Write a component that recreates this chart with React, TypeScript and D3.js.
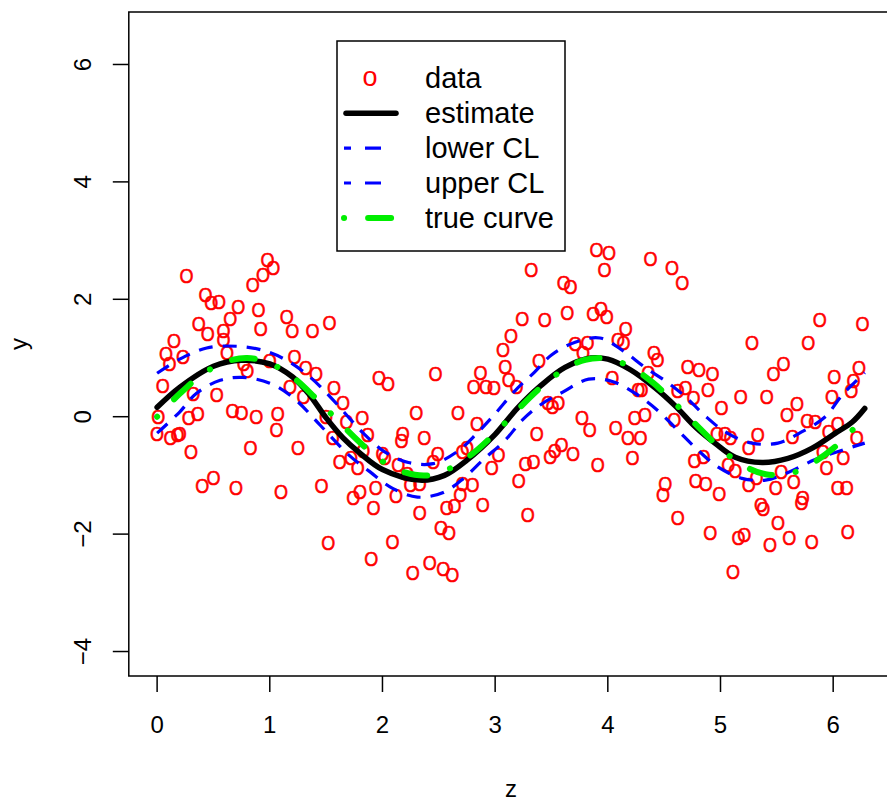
import React from "react";
import * as d3 from "d3";

const dataZ = [
  0.26, 0.98, 1.03, 0.94, 0.85, 0.43, 0.48, 0.55, 0.72, 0.9, 0.65, 1.15, 0.37, 0.45, 0.59, 0.59, 0.92, 1.2, 1.38, 1.53,
  0.15, 0.08, 0.23, 0.11, 0.62, 0.77, 1.0, 1.22, 0.8, 1.32, 1.41, 0.05, 0.32, 0.53, 1.18, 1.3, 0.67, 0.75, 0.36, 0.28,
  0.88, 1.07, 1.5, 0.01, 1.06, 0.0, 0.12, 0.18, 0.2, 0.3, 0.83, 1.25, 0.5, 0.4, 0.7, 1.1, 1.46, 1.52, 1.57, 1.65,
  1.97, 2.05, 2.47, 2.87, 2.81, 2.92, 2.99, 3.07, 3.09, 3.14, 3.12, 3.19, 1.82, 2.3, 2.67, 1.68, 2.84, 1.62, 1.78, 1.72,
  1.8, 1.74, 1.94, 2.12, 1.92, 1.56, 1.87, 1.83, 2.0, 2.02, 2.14, 2.18, 2.17, 2.37, 2.22, 2.25, 2.33, 2.45, 2.49, 2.33,
  2.71, 2.75, 3.03, 2.97, 2.71, 2.8, 2.69, 2.57, 2.64, 2.89, 2.52, 2.59, 2.09, 1.9, 2.27, 2.42, 2.54, 2.62, 3.32, 3.9,
  4.01, 3.97, 4.38, 4.57, 4.66, 3.61, 3.67, 3.64, 3.44, 3.24, 3.87, 3.94, 3.99, 4.16, 4.09, 4.14, 3.71, 3.82, 3.78, 3.39,
  4.41, 4.44, 4.36, 4.71, 4.81, 4.04, 4.27, 4.3, 4.62, 4.69, 3.47, 3.51, 3.56, 3.77, 4.24, 4.33, 4.76, 3.37, 3.27, 3.34,
  3.21, 3.29, 3.49, 3.53, 3.59, 3.69, 3.84, 4.07, 4.18, 4.29, 4.22, 3.91, 4.51, 4.49, 4.62, 4.59, 4.77, 4.85, 4.78, 4.87,
  5.88, 6.26, 5.28, 5.78, 5.56, 5.47, 4.93, 6.01, 6.23, 6.18, 4.89, 6.16, 5.18, 5.41, 5.99, 5.01, 5.68, 5.59, 5.77, 5.84,
  6.04, 4.97, 5.04, 5.09, 5.33, 5.25, 5.64, 5.96, 6.21, 5.07, 5.13, 5.32, 5.54, 5.25, 4.99, 5.49, 5.65, 5.91, 5.94, 6.09,
  6.04, 6.12, 5.73, 5.72, 5.36, 5.38, 5.51, 4.91, 5.16, 5.21, 5.44, 5.61, 5.81, 6.13, 5.11,
];
const dataY = [
  2.41, 2.68, 2.55, 2.43, 2.26, 2.09, 1.94, 1.97, 1.87, 1.83, 1.68, 1.7, 1.58, 1.42, 1.46, 1.32, 1.51, 1.46, 1.46, 1.61,
  1.29, 1.07, 1.03, 0.9, 1.1, 0.91, 0.95, 1.02, 0.78, 0.83, 0.74, 0.54, 0.4, 0.37, 0.51, 0.34, 0.11, 0.08, 0.06, -0.01,
  0.01, 0.05, 0.01, 0.01, -0.21, -0.28, -0.35, -0.31, -0.28, -0.6, -0.53, -0.53, -1.03, -1.18, -1.2, -1.28, -1.18, -2.15, 0.49, 0.25,
  0.66, 0.57, 0.74, 0.76, 0.52, 0.52, 0.49, 1.14, 0.86, 1.39, 0.64, 0.52, -0.01, 0.08, 0.08, -0.09, -0.11, -0.77, -0.87, -0.69,
  -1.28, -1.38, -1.2, -1.35, -1.55, -0.35, -0.31, -0.57, -0.62, -0.7, -0.82, -0.28, -0.4, -0.35, -0.96, -1.16, -1.13, -0.77, -0.62, -1.64,
  -0.6, -0.52, -0.65, -0.86, -1.13, -1.16, -1.33, -1.54, -1.52, -1.5, -1.88, -1.98, -2.12, -2.42, -2.66, -2.49, -2.58, -2.68, 2.5, 2.85,
  2.8, 2.51, 2.7, 2.55, 2.29, 2.28, 2.21, 1.78, 1.66, 1.68, 1.75, 1.85, 1.71, 1.51, 1.32, 1.27, 1.25, 1.27, 1.1, 0.95,
  1.1, 0.97, 0.76, 0.85, 0.81, 0.66, 0.47, 0.47, 0.44, 0.49, 0.25, 0.17, 0.25, -0.01, -0.01, 0.03, 0.32, -0.28, -0.79, -0.77,
  -1.08, -1.66, -0.67, -0.57, -0.48, -0.63, -0.21, -0.18, -0.36, -0.36, -0.69, -0.81, -1.13, -1.33, -1.71, -0.04, -0.74, -0.67, -1.09, -1.13,
  1.65, 1.59, 1.27, 1.27, 0.9, 0.74, 0.74, 0.68, 0.83, 0.62, 0.47, 0.44, 0.34, 0.34, 0.34, 0.15, 0.22, 0.03, -0.06, -0.09,
  -0.12, -0.28, -0.28, -0.36, -0.31, -0.53, -0.33, -0.26, -0.35, -0.82, -0.91, -1.03, -0.94, -1.16, -1.3, -1.21, -1.11, -0.6, -0.86, -0.69,
  -1.21, -1.21, -1.37, -1.47, -1.5, -1.57, -1.81, -1.98, -2.06, -2.01, -2.17, -2.06, -2.13, -1.96, -2.63,
];

// fitted curve
const fitZ = [0, 0.2, 0.5, 0.75, 1.0, 1.2, 1.35, 1.5, 1.65, 1.8, 2.0, 2.33, 2.55, 2.75, 3.0, 3.2, 3.4, 3.62, 3.85, 4.0, 4.2, 4.42, 4.6, 4.78, 4.95, 5.13, 5.37, 5.6, 5.81, 6.02, 6.17, 6.28];
const fitY = [0.16, 0.5, 0.86, 0.96, 0.9, 0.68, 0.38, -0.02, -0.36, -0.62, -0.9, -1.08, -1.0, -0.74, -0.3, 0.15, 0.52, 0.84, 1.0, 0.98, 0.8, 0.49, 0.18, -0.18, -0.45, -0.69, -0.78, -0.71, -0.54, -0.28, -0.09, 0.14];

// confidence limits
const upperZ = [0, 0.2, 0.44, 0.71, 0.94, 1.15, 1.36, 1.54, 1.83, 2.02, 2.23, 2.45, 2.66, 2.84, 3.0, 3.18, 3.35, 3.5, 3.71, 3.93, 4.13, 4.33, 4.54, 4.7, 4.86, 5.06, 5.28, 5.51, 5.72, 5.93, 6.08, 6.28];
const upperY = [0.74, 0.98, 1.17, 1.2, 1.13, 0.96, 0.67, 0.33, -0.28, -0.6, -0.78, -0.8, -0.6, -0.28, 0.05, 0.45, 0.76, 1.05, 1.27, 1.34, 1.13, 0.84, 0.57, 0.32, 0.02, -0.28, -0.45, -0.45, -0.26, 0.0, 0.37, 0.75];
const lowerZ = [0, 0.2, 0.35, 0.56, 0.76, 1.0, 1.21, 1.45, 1.7, 1.89, 2.09, 2.31, 2.54, 2.72, 2.89, 3.09, 3.24, 3.4, 3.6, 3.83, 4.04, 4.24, 4.44, 4.62, 4.8, 4.98, 5.19, 5.4, 5.6, 5.84, 6.08, 6.28];
const lowerY = [-0.28, 0.08, 0.4, 0.62, 0.67, 0.57, 0.32, -0.15, -0.65, -0.94, -1.22, -1.37, -1.29, -1.05, -0.74, -0.4, -0.06, 0.2, 0.42, 0.64, 0.6, 0.4, 0.11, -0.23, -0.57, -0.86, -1.05, -1.08, -0.95, -0.73, -0.57, -0.45];

// true curve
const trueZ = [0, 0.2, 0.4, 0.6, 0.8, 1.0, 1.2, 1.4, 1.6, 1.8, 2.0, 2.2, 2.4, 2.6, 2.8, 3.0, 3.2, 3.4, 3.6, 3.8, 4.0, 4.2, 4.4, 4.6, 4.8, 5.0, 5.2, 5.4, 5.6, 5.8, 6.0, 6.2, 6.28];
const trueY = [0, 0.39, 0.72, 0.93, 1.0, 0.91, 0.68, 0.33, -0.06, -0.44, -0.76, -0.95, -1.0, -0.88, -0.63, -0.28, 0.12, 0.49, 0.79, 0.97, 0.99, 0.85, 0.58, 0.22, -0.17, -0.54, -0.83, -0.98, -0.98, -0.81, -0.54, -0.17, 0];

const xTicks = [0, 1, 2, 3, 4, 5, 6];
const yTicks = [-4, -2, 0, 2, 4, 6];
const legendLabels = ["data", "estimate", "lower CL", "upper CL", "true curve"];

const W = 887;
const H = 806;
const font = "'Liberation Sans', Arial, Helvetica, sans-serif";

const x = d3.scaleLinear().domain([-0.2513, 6.5345]).range([128.8, 893.4]);
const y = d3.scaleLinear().domain([-4.417, 6.894]).range([676, 12]);

const line = d3
  .line<[number, number]>()
  .x((d) => x(d[0]))
  .y((d) => y(d[1]))
  .curve(d3.curveCatmullRom);

const zip = (a: number[], b: number[]) => a.map((v, i) => [v, b[i]] as [number, number]);

const blueDash = "14 10";
const greenDash = "0.1 24 23 24";

export default function App() {
  const [x0, x1] = x.range();
  const [y0, y1] = y.range();

  // legend geometry
  const lgX = 337, lgY = 41, lgW = 228, lgH = 210;
  const rowY = (i: number) => 78.3 + i * 34.9;
  const segA = 344, segB = 398;

  return (
    <svg width={W} height={H} style={{ position: "absolute", left: 0, top: 0, background: "#fff" }} fontFamily={font}>
      {/* points, drawn as the letter O */}
      <g fill="#ff0000" stroke="#ff0000" strokeWidth={0.6} fontSize={21} textAnchor="middle">
        {dataZ.map((z, i) => (
          <text key={i} transform={`translate(${x(z)},${y(dataY[i]) + 7.5}) scale(0.86,1)`}>O</text>
        ))}
      </g>

      <path d={line(zip(fitZ, fitY)) || ""} fill="none" stroke="#000" strokeWidth={5.5} strokeLinecap="round" />
      <path d={line(zip(lowerZ, lowerY)) || ""} fill="none" stroke="#0000ff" strokeWidth={3.2} strokeDasharray={blueDash} />
      <path d={line(zip(upperZ, upperY)) || ""} fill="none" stroke="#0000ff" strokeWidth={3.2} strokeDasharray={blueDash} />
      <path d={line(zip(trueZ, trueY)) || ""} fill="none" stroke="#00ee00" strokeWidth={6} strokeLinecap="round" strokeDasharray={greenDash} />

      {/* frame */}
      <rect x={x0} y={y1} width={x1 - x0} height={y0 - y1} fill="none" stroke="#000" strokeWidth={1.5} />

      {/* x axis */}
      <g stroke="#000" strokeWidth={1.5}>
        {xTicks.map((t) => (
          <line key={t} x1={x(t)} x2={x(t)} y1={y0} y2={y0 + 16} />
        ))}
      </g>
      <g fontSize={24} textAnchor="middle" fill="#000">
        {xTicks.map((t) => (
          <text key={t} x={x(t)} y={733}>{t}</text>
        ))}
        <text x={(x0 + x1) / 2} y={797}>z</text>
      </g>

      {/* y axis */}
      <g stroke="#000" strokeWidth={1.5}>
        {yTicks.map((t) => (
          <line key={t} x1={x0 - 16} x2={x0} y1={y(t)} y2={y(t)} />
        ))}
      </g>
      <g fontSize={24} textAnchor="middle" fill="#000">
        {yTicks.map((t) => (
          <text key={t} transform={`translate(91,${y(t)}) rotate(-90)`}>{t < 0 ? `\u2212${-t}` : t}</text>
        ))}
        <text transform={`translate(27,${(y0 + y1) / 2}) rotate(-90)`}>y</text>
      </g>

      {/* legend */}
      <rect x={lgX} y={lgY} width={lgW} height={lgH} fill="#fff" stroke="#000" strokeWidth={1.5} />
      <text x={(segA + segB) / 2 - 1} y={rowY(0) + 7.3} fill="#ff0000" fontSize={27} textAnchor="middle">o</text>
      <line x1={segA + 2} x2={segB - 2} y1={rowY(1)} y2={rowY(1)} stroke="#000" strokeWidth={5.5} strokeLinecap="round" />
      <line x1={segA} x2={segB - 3} y1={rowY(2)} y2={rowY(2)} stroke="#0000ff" strokeWidth={3.2} strokeDasharray="16 14" strokeDashoffset={9} />
      <line x1={segA} x2={segB - 3} y1={rowY(3)} y2={rowY(3)} stroke="#0000ff" strokeWidth={3.2} strokeDasharray="16 14" strokeDashoffset={9} />
      <line x1={segA} x2={segB} y1={rowY(4)} y2={rowY(4)} stroke="#00ee00" strokeWidth={6} strokeLinecap="round" strokeDasharray={greenDash} />
      <g fontSize={29} fill="#000">
        {legendLabels.map((l, i) => (
          <text key={l} x={425} y={rowY(i)} dy="0.35em">{l}</text>
        ))}
      </g>
    </svg>
  );
}
